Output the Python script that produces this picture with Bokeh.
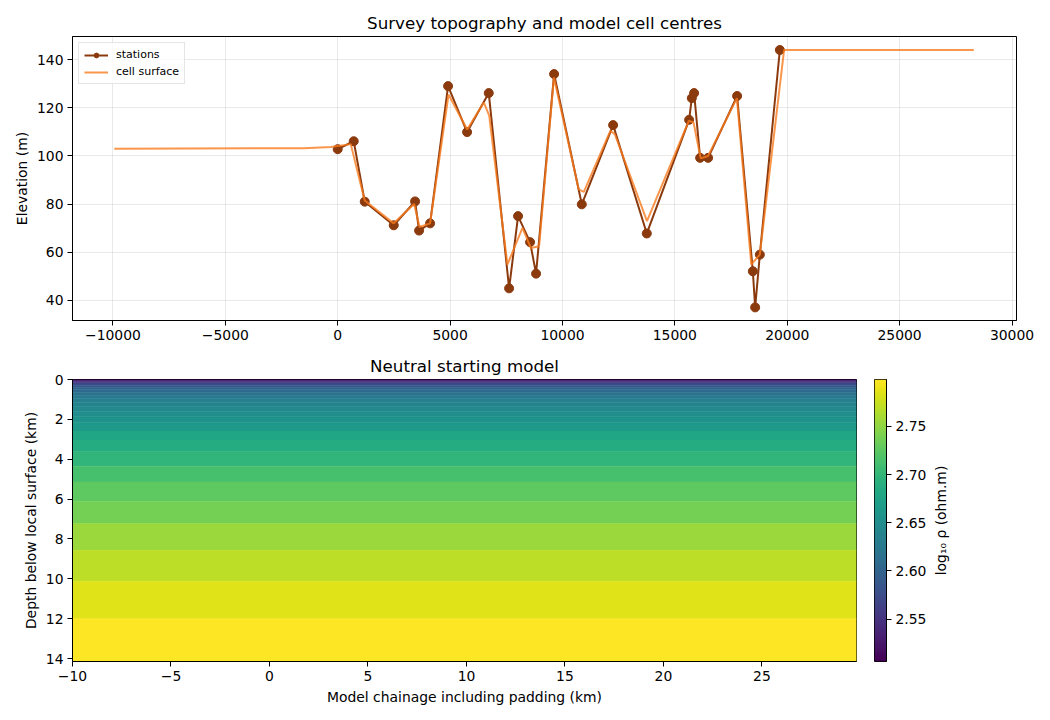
import numpy as np
from bokeh.plotting import figure
from bokeh.models import (Range1d, FixedTicker, CustomJSTickFormatter, LinearColorMapper,
                          ColumnDataSource, Legend, LegendItem)
from bokeh.transform import linear_cmap
from bokeh.palettes import Viridis256
from bokeh.layouts import column, row
from bokeh.embed import file_html
from bokeh.resources import INLINE

# ---------------- data ----------------
station_x_m = [0, 712, 1202, 2493, 3442, 3620, 4110, 4910, 5756, 6720, 7625, 8024, 8558, 8825,
               9627, 10859, 12253, 13752, 15634, 15754, 15856, 16124, 16480, 17770, 18469,
               18572, 18781, 19671]
station_elev_m = [102.8, 106.1, 81.0, 71.2, 81.1, 69.0, 72.0, 129.0, 109.9, 126.1, 45.0, 75.0,
                  64.2, 51.1, 134.0, 79.9, 112.8, 67.8, 115.0, 124.0, 126.1, 99.2, 99.2, 124.9,
                  52.1, 37.1, 59.0, 144.0]

cell_x_m = [-9940, -1500, -300, 580, 1200, 2490, 3400, 3640, 4110, 4930, 5760, 6500, 6740,
            7550, 8220, 8590, 8960, 9620, 10720, 10950, 12130, 12330, 13760, 15620, 15830,
            16150, 16480, 17760, 18400, 18780, 19860, 28300]
cell_elev_m = [103.0, 103.2, 103.7, 104.9, 81.5, 72.0, 80.0, 70.5, 72.0, 125.5, 111.0, 122.2,
               116.7, 54.9, 70.1, 61.8, 62.5, 132.6, 86.1, 85.1, 110.4, 109.0, 72.9, 114.6,
               113.9, 99.0, 100.0, 124.0, 54.9, 59.0, 144.0, 144.0]

layer_edges_km = [0.0, 0.04, 0.09, 0.15, 0.22, 0.30, 0.40, 0.52, 0.65, 0.80, 0.97, 1.16, 1.37,
                  1.60, 1.86, 2.16, 2.59, 3.04, 3.63, 4.35, 5.14, 6.11, 7.23, 8.57, 10.12,
                  12.0, 14.15]
layer_log10_rho = [2.506, 2.529, 2.547, 2.562, 2.576, 2.588, 2.600, 2.608, 2.617, 2.623, 2.632,
                   2.638, 2.644, 2.649, 2.655, 2.664, 2.678, 2.687, 2.699, 2.713, 2.726, 2.738,
                   2.755, 2.769, 2.784, 2.799]
mesh_x_min_km = -10.0
mesh_x_max_km = 29.8

top_xticks = [-10000, -5000, 0, 5000, 10000, 15000, 20000, 25000, 30000]
top_yticks = [40, 60, 80, 100, 120, 140]
bot_xticks = [-10, -5, 0, 5, 10, 15, 20, 25]
bot_yticks = [0, 2, 4, 6, 8, 10, 12, 14]
cbar_ticks = [2.55, 2.60, 2.65, 2.70, 2.75]
cbar_low, cbar_high = 2.506, 2.7986

FONT = "DejaVu Sans"
TICK_PX = "13.9px"
BROWN = "#8b3a0e"
ORANGE = "#f97c1e"

minus_fmt = CustomJSTickFormatter(code="return (tick < 0 ? '\\u2212' : '') + Math.abs(tick).toString();")


def style(p, grid=False):
    p.outline_line_color = "black"
    p.outline_line_width = 1
    p.outline_line_alpha = 1
    p.background_fill_color = "white"
    p.border_fill_color = "white"
    for ax in p.axis:
        ax.major_label_text_font = FONT
        ax.major_label_text_font_size = TICK_PX
        ax.major_label_text_color = "black"
        ax.axis_label_text_font = FONT
        ax.axis_label_text_font_size = TICK_PX
        ax.axis_label_text_font_style = "normal"
        ax.axis_label_text_color = "black"
        ax.major_tick_in = 0
        ax.major_tick_out = 5
        ax.minor_tick_in = 0
        ax.minor_tick_out = 0
        ax.axis_line_color = "black"
        ax.major_tick_line_color = "black"
        ax.major_label_standoff = 4
    if grid:
        p.grid.grid_line_color = "#b0b0b0"
        p.grid.grid_line_alpha = 0.35
        p.grid.grid_line_width = 0.8
    else:
        p.grid.grid_line_color = None
    if p.title is not None:
        p.title.text_font = FONT
        p.title.text_font_size = "16.7px"
        p.title.text_font_style = "normal"
        p.title.align = "center"
        p.title.text_color = "black"


# ---------------- top: topography ----------------
p1 = figure(width=1050, height=350, output_backend="svg", toolbar_location=None,
            x_range=Range1d(-11800, 30200), y_range=Range1d(31.65, 149.6),
            min_border_left=72, min_border_right=34, min_border_top=36, min_border_bottom=30,
            title="Survey topography and model cell centres")
r_sl = p1.line(station_x_m, station_elev_m, line_color=BROWN, line_width=2)
r_sm = p1.scatter(station_x_m, station_elev_m, size=9, fill_color=BROWN, line_color=BROWN)
r_c = p1.line(cell_x_m, cell_elev_m, line_color=ORANGE, line_alpha=0.8, line_width=2)
p1.xaxis.ticker = FixedTicker(ticks=top_xticks)
p1.yaxis.ticker = FixedTicker(ticks=top_yticks)
p1.xaxis.formatter = minus_fmt
p1.yaxis.axis_label = "Elevation (m)"
style(p1, grid=True)
p1.title.standoff = 8
p1.yaxis.axis_label_standoff = 4
legend = Legend(items=[LegendItem(label="stations", renderers=[r_sl, r_sm]),
                       LegendItem(label="cell surface", renderers=[r_c])],
                location="top_left")
legend.label_text_font = FONT
legend.label_text_font_size = "11px"
legend.label_text_color = "black"
legend.glyph_width = 24
legend.glyph_height = 12
legend.label_height = 12
legend.spacing = 4
legend.padding = 5
legend.margin = 6
legend.label_standoff = 8
legend.border_line_color = "#cccccc"
legend.border_line_width = 1
legend.background_fill_alpha = 0.8
p1.add_layout(legend)

# ---------------- bottom: starting model ----------------
n = len(layer_log10_rho)
src = ColumnDataSource(dict(
    left=[mesh_x_min_km] * n, right=[mesh_x_max_km] * n,
    top=layer_edges_km[:-1], bottom=layer_edges_km[1:], value=layer_log10_rho))
p2 = figure(width=870, height=370, output_backend="svg", toolbar_location=None,
            x_range=Range1d(mesh_x_min_km, mesh_x_max_km),
            y_range=Range1d(layer_edges_km[-1], 0),
            min_border_left=72, min_border_right=14, min_border_top=29, min_border_bottom=59,
            title="Neutral starting model")
cmap = linear_cmap("value", Viridis256, cbar_low, cbar_high)
p2.quad(left="left", right="right", top="top", bottom="bottom", source=src,
        fill_color=cmap, line_color=cmap, line_width=0.5)
p2.xaxis.ticker = FixedTicker(ticks=bot_xticks)
p2.yaxis.ticker = FixedTicker(ticks=bot_yticks)
p2.xaxis.formatter = minus_fmt
p2.xaxis.axis_label = "Model chainage including padding (km)"
p2.yaxis.axis_label = "Depth below local surface (km)"
style(p2)
p2.title.standoff = 7
p2.yaxis.axis_label_standoff = 4
p2.xaxis.axis_label_standoff = 5

# ---------------- colour bar ----------------
mapper = LinearColorMapper(palette=Viridis256, low=cbar_low, high=cbar_high)
p3 = figure(width=59, height=370, output_backend="svg", toolbar_location=None,
            x_range=Range1d(0, 1), y_range=Range1d(cbar_low, cbar_high),
            y_axis_location="right", x_axis_location=None,
            min_border_left=4, min_border_right=40, min_border_top=29, min_border_bottom=59)
grad = np.linspace(cbar_low, cbar_high, 256).reshape(256, 1)
p3.image(image=[grad], x=0, y=cbar_low, dw=1, dh=cbar_high - cbar_low, color_mapper=mapper)
p3.yaxis.ticker = FixedTicker(ticks=cbar_ticks)
p3.yaxis.formatter = CustomJSTickFormatter(code="return tick.toFixed(2);")
style(p3)

# colour-bar label panel (left axis label reads bottom-to-top)
p4 = figure(width=121, height=370, output_backend="svg", toolbar_location=None,
            x_range=Range1d(0, 1), y_range=Range1d(0, 1), x_axis_location=None,
            min_border_left=14, min_border_right=5, min_border_top=29, min_border_bottom=59)
p4.scatter([0.5], [0.5], size=0, alpha=0)
style(p4)
p4.outline_line_color = None
p4.yaxis.ticker = FixedTicker(ticks=[])
p4.yaxis.axis_line_color = None
p4.yaxis.major_tick_out = 0
p4.yaxis.axis_label = "log\u2081\u2080 \u03c1 (ohm.m)"
p4.yaxis.axis_label_standoff = 0

layout = column(p1, row(p2, p3, p4))
open("out.html", "w").write(file_html(layout, INLINE))
